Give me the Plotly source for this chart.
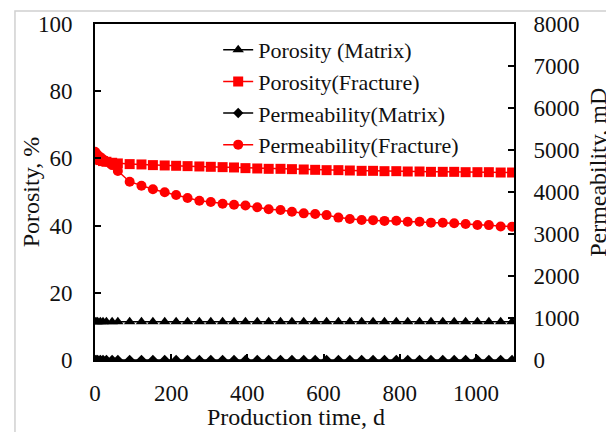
import plotly.graph_objects as go

days = [0, 3, 7, 14, 21, 30, 45, 60,
        91, 122, 152, 183, 213, 243, 274, 304, 335, 365, 395, 426, 456, 487,
        517, 548, 578, 608, 639, 669, 700, 730, 760, 791, 821, 852, 882, 913,
        943, 973, 1004, 1034, 1065, 1095]

porosity_matrix = [11.4] * len(days)

porosity_fracture = [60.3, 60.0, 59.8, 59.5, 59.2, 59.0, 58.7, 58.5,
                     58.3, 58.2, 58.0, 57.9, 57.8, 57.7, 57.6, 57.5, 57.4, 57.3,
                     57.1, 57.0, 56.9, 56.9, 56.8, 56.7, 56.6, 56.5, 56.5, 56.4,
                     56.3, 56.3, 56.2, 56.2, 56.1, 56.1, 56.0, 56.0, 56.0, 55.9,
                     55.9, 55.9, 55.8, 55.8]

permeability_matrix = [1.0] * len(days)

permeability_fracture = [4960, 4920, 4880, 4830, 4780, 4720, 4640, 4500,
                         4245, 4150, 4064, 3993, 3929, 3857, 3793, 3762, 3722, 3698,
                         3680, 3635, 3590, 3570, 3530, 3492, 3476, 3450, 3390, 3357,
                         3335, 3330, 3312, 3315, 3293, 3290, 3270, 3268, 3254, 3238,
                         3214, 3212, 3180, 3175]

x_ticks = [0, 200, 400, 600, 800, 1000]
y_ticks = [0, 20, 40, 60, 80, 100]
y2_ticks = [0, 1000, 2000, 3000, 4000, 5000, 6000, 7000, 8000]

FONT = "Liberation Serif"
TXT = "#111111"

fig = go.Figure()
fig.add_trace(go.Scatter(x=days, y=porosity_matrix, name="Porosity (Matrix)",
                         mode="lines+markers", legendgroup="a",
                         line=dict(color="black", width=1.5),
                         marker=dict(symbol="triangle-up", size=10, color="black")))
fig.add_trace(go.Scatter(x=days, y=porosity_fracture, name="Porosity(Fracture)",
                         mode="lines+markers", legendgroup="b",
                         line=dict(color="#ff0000", width=1.5),
                         marker=dict(symbol="square", size=10, color="#ff0000")))
fig.add_trace(go.Scatter(x=days, y=permeability_matrix, name="Permeability(Matrix)",
                         mode="lines+markers", yaxis="y2", legendgroup="c",
                         line=dict(color="black", width=1.5),
                         marker=dict(symbol="diamond", size=8, color="black")))
fig.add_trace(go.Scatter(x=days, y=permeability_fracture, name="Permeability(Fracture)",
                         mode="lines+markers", yaxis="y2", legendgroup="d",
                         line=dict(color="#ff0000", width=1.5),
                         marker=dict(symbol="circle", size=10, color="#ff0000")))

axis_common = dict(showline=True, linecolor="black", linewidth=2, ticks="inside",
                   tickcolor="black", ticklen=6, tickwidth=1.5, showgrid=False,
                   zeroline=False, automargin=False,
                   tickfont=dict(family=FONT, size=23, color=TXT))

fig.update_layout(
    width=606, height=432,
    margin=dict(l=95, r=92, t=24, b=72, autoexpand=False),
    paper_bgcolor="white", plot_bgcolor="white",
    font=dict(family=FONT, color=TXT),
    showlegend=True,
    legend=dict(x=0.294, y=0.985, xanchor="left", yanchor="top",
                bgcolor="rgba(0,0,0,0)", font=dict(family=FONT, size=22, color=TXT),
                tracegroupgap=4, traceorder="normal"),
    xaxis=dict(range=[0, 1100], tickvals=x_ticks, mirror=True,
               ticklabelstandoff=11, **axis_common),
    yaxis=dict(range=[0, 100], tickvals=y_ticks, ticklabelstandoff=16, **axis_common),
    yaxis2=dict(range=[0, 8000], tickvals=y2_ticks, overlaying="y", side="right",
                ticklabelstandoff=13, **axis_common),
    annotations=[
        dict(text="Porosity, %", xref="paper", yref="paper", x=-0.152, y=0.5,
             textangle=-90, showarrow=False, xanchor="center", yanchor="middle",
             font=dict(family=FONT, size=24, color=TXT)),
        dict(text="Permeability, mD", xref="paper", yref="paper", x=1.2005, y=0.557,
             textangle=-90, showarrow=False, xanchor="center", yanchor="middle",
             font=dict(family=FONT, size=24, color=TXT)),
        dict(text="Production time, d", xref="paper", yref="paper", x=0.48, y=-0.17,
             showarrow=False, xanchor="center", yanchor="middle",
             font=dict(family=FONT, size=24, color=TXT)),
    ],
    shapes=[dict(type="rect", xref="paper", yref="paper", x0=-0.191, y0=-1,
                 x1=2, y1=1.0387, line=dict(color="#d0d0d0", width=1.5),
                 fillcolor="rgba(0,0,0,0)", layer="above")],
)

fig.write_html("out.html", config={"displayModeBar": False},
               post_script="document.body.style.margin='0';")
